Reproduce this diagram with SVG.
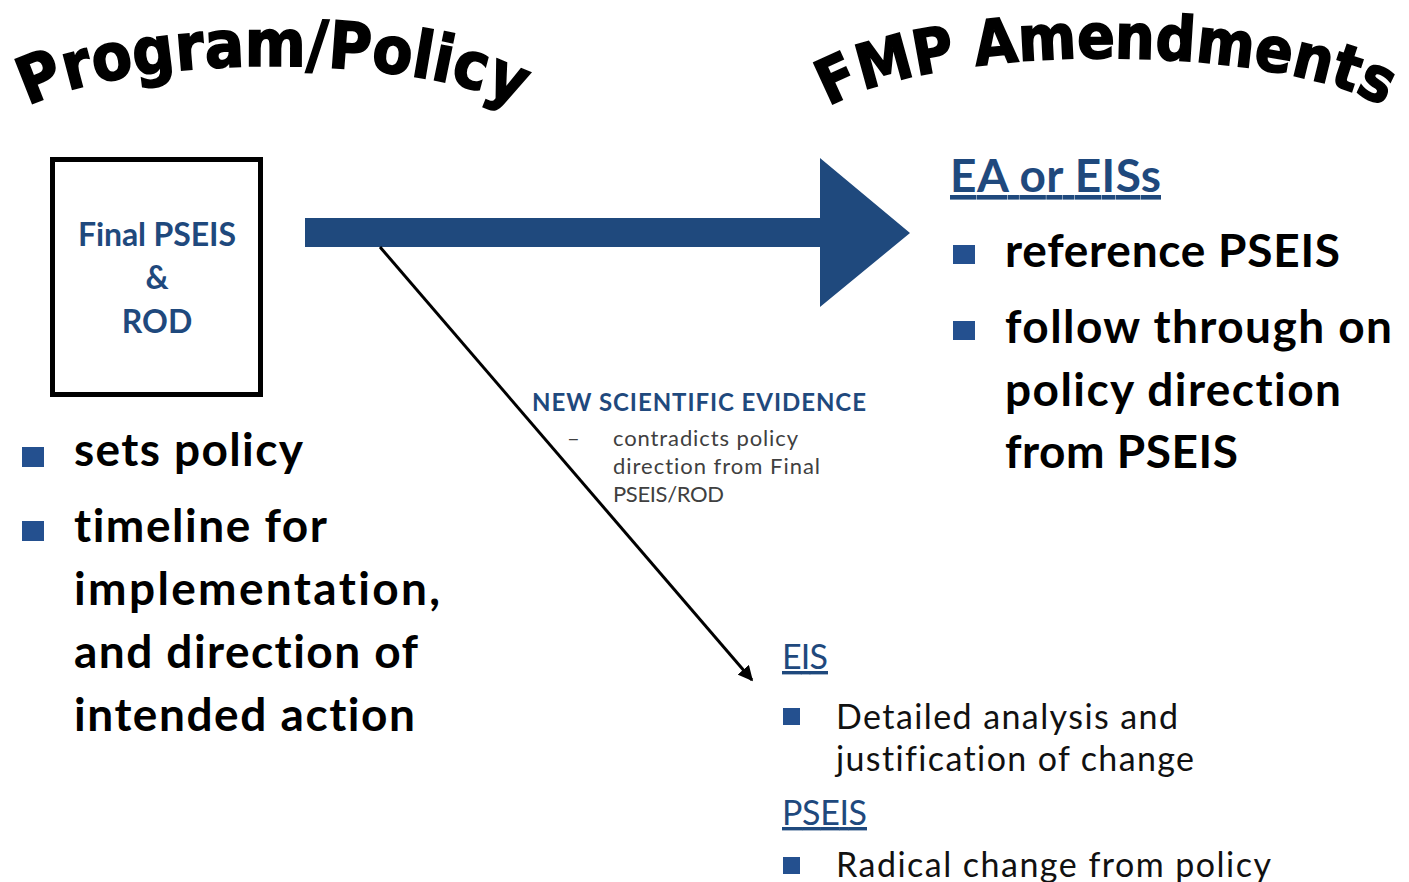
<svg xmlns="http://www.w3.org/2000/svg" width="1409" height="882" viewBox="0 0 1409 882">
  <style>
    text { font-variant-ligatures: none; }
    .title { font-family: "DejaVu Sans Condensed", "DejaVu Sans", "Liberation Sans", sans-serif; font-stretch: condensed; font-weight: 700; font-size: 62px; fill: #000; stroke: #000; stroke-width: 1.6px; }
    .big { font-family: Lato, "Liberation Sans", sans-serif; font-weight: 700; font-size: 46px; fill: #000; }
    .bluebig { font-family: Lato, "Liberation Sans", sans-serif; font-weight: 700; font-size: 46px; fill: #1F497D; text-decoration: underline; }
    .boxt { font-family: Lato, "Liberation Sans", sans-serif; font-weight: 700; font-size: 32px; fill: #1F497D; text-anchor: middle; }
    .head { font-family: Lato, "Liberation Sans", sans-serif; font-weight: 700; font-size: 24px; fill: #1F497D; }
    .small { font-family: Lato, "Liberation Sans", sans-serif; font-size: 22px; fill: #404040; }
    .med { font-family: Lato, "Liberation Sans", sans-serif; font-size: 34px; fill: #111; }
    .medblue { font-family: Lato, "Liberation Sans", sans-serif; font-size: 34px; fill: #1F497D; text-decoration: underline; }
    .bullet { fill: #24508F; }
  </style>
  <defs>
    <path id="arcLeft" d="M 1,138 A 272,72 0 0 1 545,138"/>
    <path id="arcRight" d="M 804,139 A 302,81 0 0 1 1408,139"/>
    <marker id="arrowSmall" viewBox="0 0 10 10" refX="9" refY="5" markerWidth="5" markerHeight="5" orient="auto" markerUnits="strokeWidth">
      <path d="M0,0 L10,5 L0,10 z" fill="#000"/>
    </marker>
  </defs>
  <rect width="1409" height="882" fill="#fff"/>

  <g id="title-program-policy">
    <text class="title" style="font-size:65px"><textPath href="#arcLeft" startOffset="50%" text-anchor="middle">Program/Policy</textPath></text>
  </g>
  <g id="title-fmp-amendments">
    <text class="title"><textPath href="#arcRight" startOffset="50%" text-anchor="middle">FMP Amendments</textPath></text>
  </g>

  <g id="connectors">
    <path id="main-arrow" d="M305,218 L820,218 L820,158 L910,233 L820,307 L820,247 L305,247 Z" fill="#1F497D"/>
    <line id="evidence-arrow" x1="380" y1="247" x2="752" y2="680" stroke="#000" stroke-width="3" marker-end="url(#arrowSmall)"/>
  </g>

  <g id="node-final-pseis">
    <rect x="52.5" y="159.5" width="208" height="235" fill="none" stroke="#000" stroke-width="5"/>
    <text class="boxt" x="157" y="246" textLength="158">Final PSEIS</text>
    <text class="boxt" x="157" y="289">&amp;</text>
    <text class="boxt" x="157" y="333">ROD</text>
  </g>

  <g id="program-bullets">
    <rect class="bullet" x="22" y="447" width="22" height="20"/>
    <text class="big" x="74" y="466" textLength="229">sets policy</text>
    <rect class="bullet" x="22" y="521" width="22" height="20"/>
    <text class="big" x="74" y="542" textLength="253">timeline for</text>
    <text class="big" x="74" y="605" textLength="366">implementation,</text>
    <text class="big" x="74" y="668" textLength="344">and direction of</text>
    <text class="big" x="74" y="731" textLength="341">intended action</text>
  </g>

  <g id="node-ea-eis">
    <text class="bluebig" x="950" y="192" textLength="211">EA or EISs</text>
    <rect class="bullet" x="953" y="245" width="22" height="19"/>
    <text class="big" x="1005" y="267" textLength="335">reference PSEIS</text>
    <rect class="bullet" x="953" y="321" width="22" height="19"/>
    <text class="big" x="1005" y="343" textLength="387">follow through on</text>
    <text class="big" x="1005" y="406" textLength="336">policy direction</text>
    <text class="big" x="1005" y="468" textLength="233">from PSEIS</text>
  </g>

  <g id="label-new-evidence">
    <text class="head" x="532" y="411" textLength="334">NEW SCIENTIFIC EVIDENCE</text>
    <text class="small" x="567" y="446">–</text>
    <text class="small" x="613" y="446" textLength="185">contradicts policy</text>
    <text class="small" x="613" y="474" textLength="207">direction from Final</text>
    <text class="small" x="613" y="502" textLength="111">PSEIS/ROD</text>
  </g>

  <g id="node-eis-pseis">
    <text class="medblue" x="782" y="669" textLength="46">EIS</text>
    <rect class="bullet" x="783" y="708" width="17" height="17"/>
    <text class="med" x="836" y="729" textLength="342">Detailed analysis and</text>
    <text class="med" x="836" y="771" textLength="358">justification of change</text>
    <text class="medblue" x="782" y="825" textLength="85">PSEIS</text>
    <rect class="bullet" x="783" y="857" width="17" height="17"/>
    <text class="med" x="836" y="877" textLength="435">Radical change from policy</text>
  </g>
</svg>
